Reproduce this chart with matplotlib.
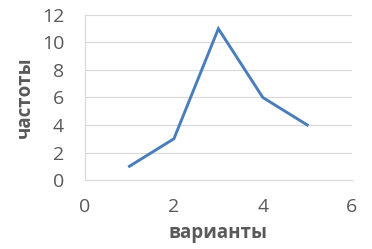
import matplotlib
matplotlib.use("Agg")
import matplotlib.pyplot as plt

# values
x_vals = [1, 2, 3, 4, 5]
y_vals = [1, 3, 11, 6, 4]
x_ticks = [0, 2, 4, 6]
y_ticks = [0, 2, 4, 6, 8, 10, 12]

plt.rcParams['font.family'] = ['Open Sans', 'DejaVu Sans']

fig = plt.figure(figsize=(3.72, 2.49), dpi=100)
ax = fig.add_axes([0.2285, 0.277, 0.717, 0.663])

ax.plot(x_vals, y_vals, color='#4a7ebb', lw=2.1, solid_joinstyle='miter')

ax.set_xlim(0, 6)
ax.set_ylim(0, 12)
ax.set_xticks(x_ticks)
ax.set_yticks(y_ticks)
ax.yaxis.grid(True, color='#d9d9d9', lw=0.8)
ax.set_axisbelow(True)

for side in ['top', 'right']:
    ax.spines[side].set_visible(False)
ax.spines['left'].set_color('#d9d9d9')
ax.spines['bottom'].set_color('#d9d9d9')

ax.tick_params(axis='both', length=0, labelsize=14, labelcolor='#595959')
ax.tick_params(axis='x', pad=13)
ax.tick_params(axis='y', pad=15)

ax.set_xlabel('варианты', fontsize=13.5, fontweight='bold', color='#595959', labelpad=5)
ax.set_ylabel('частоты', fontsize=13.5, fontweight='bold', color='#595959', labelpad=5)

fig.savefig('out.png', dpi=100)
